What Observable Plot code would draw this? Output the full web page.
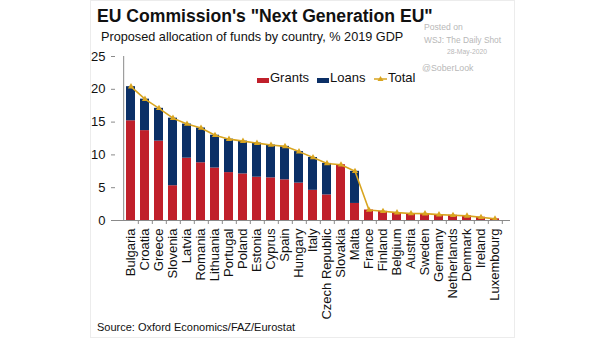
<!DOCTYPE html>
<html>
<head>
<meta charset="utf-8">
<script src="https://cdn.jsdelivr.net/npm/d3@7"></script>
<script src="https://cdn.jsdelivr.net/npm/@observablehq/plot@0.6"></script>
<style>
  html, body { margin: 0; padding: 0; background: #fff; }
  #wrap { position: relative; width: 605px; height: 341px; overflow: hidden; font-family: "Liberation Sans", Arial, sans-serif; }
  #frame { position: absolute; left: 90px; top: 0px; width: 425px; height: 338px; border: 1px solid #ececec; box-sizing: border-box; }
  .abs { position: absolute; white-space: nowrap; line-height: 1; }
  #title { left: 97px; top: 8px; font-size: 17.6px; font-weight: bold; color: #111; }
  #subtitle { left: 101px; top: 31px; font-size: 12.7px; color: #111; }
  #source { left: 97px; top: 322px; font-size: 11px; color: #111; }
  .wm { color: #b8b8b8; }
  #chart { position: absolute; left: 0; top: 0; }
  .leg { position: absolute; top: 71px; font-size: 13px; line-height: 1; color: #111; display: flex; align-items: flex-end; }
  .sw { display: inline-block; width: 12px; height: 5px; margin-right: 1px; margin-bottom: 1px; }
</style>
</head>
<body>
<div id="wrap">
  <div id="frame"></div>
  <div id="chart"></div>
  <div id="title" class="abs">EU Commission's "Next Generation EU"</div>
  <div id="subtitle" class="abs">Proposed allocation of funds by country, % 2019 GDP</div>
  <div class="abs wm" style="left:424px;top:23px;font-size:8.6px;">Posted on</div>
  <div class="abs wm" style="left:424px;top:36px;font-size:8.4px;">WSJ: The Daily Shot</div>
  <div class="abs wm" style="left:447px;top:49px;font-size:6.8px;">28-May-2020</div>
  <div class="abs wm" style="left:422px;top:64px;font-size:8.8px;">@SoberLook</div>
  <div class="leg" style="left:257px;"><span class="sw" style="background:#c0202b"></span>Grants</div>
  <div class="leg" style="left:317px;"><span class="sw" style="background:#0b2f66"></span>Loans</div>
  <div class="leg" style="left:374px;"><svg width="13" height="8" style="margin-right:1px;margin-bottom:1px"><line x1="0" y1="4" x2="13" y2="4" stroke="#d9a520" stroke-width="1.5"/><path d="M6.5,1 L9.5,6 L3.5,6 Z" fill="#d9a520"/></svg>Total</div>
  <div id="source" class="abs">Source: Oxford Economics/FAZ/Eurostat</div>
</div>
<script>
const countries = ["Bulgaria","Croatia","Greece","Slovenia","Latvia","Romania","Lithuania","Portugal","Poland","Estonia","Cyprus","Spain","Hungary","Italy","Czech Republic","Slovakia","Malta","France","Finland","Belgium","Austria","Sweden","Germany","Netherlands","Denmark","Ireland","Luxembourg"];
const grants = [15.2,13.7,12.1,5.3,9.5,8.8,8.0,7.3,7.1,6.6,6.5,6.2,5.7,4.6,3.9,8.5,2.6,1.6,1.4,1.2,1.07,1.05,0.9,0.8,0.7,0.5,0.25];
const loans  = [5.2,4.8,5.0,10.3,5.2,5.3,5.0,5.1,5.0,5.2,5.0,5.1,4.8,5.0,4.8,0,4.9,0,0,0,0,0,0,0,0,0,0];
const yTicks = [0,5,10,15,20,25];
const seriesNames = ["Grants","Loans"];

const long = [];
countries.forEach((c,i) => {
  long.push({country: c, type: "Grants", value: grants[i]});
  long.push({country: c, type: "Loans", value: loans[i]});
});
const totals = countries.map((c,i) => ({country: c, total: +(grants[i] + loans[i]).toFixed(2)}));

const W = 605, H = 341, ML = 115, MR = 95, MT = 56, MB = 121;
const step = (W - ML - MR) / countries.length;
const gold = "#d9a520";
const axisGray = "#8a8a8a";

const chart = Plot.plot({
  width: W, height: H,
  marginLeft: ML, marginRight: MR, marginTop: MT, marginBottom: MB,
  style: {background: "transparent", fontFamily: "Liberation Sans, Arial, sans-serif", overflow: "visible"},
  x: {domain: countries, paddingInner: 0.36, paddingOuter: 0.18, align: 0.5},
  y: {domain: [0, 25]},
  color: {domain: seriesNames, range: ["#c0202b", "#0b2f66"]},
  marks: [
    Plot.barY(long, {x: "country", y: "value", fill: "type", order: seriesNames}),
    Plot.line(totals, {x: "country", y: "total", stroke: gold, strokeWidth: 1.6}),
    Plot.dot(totals, {x: "country", y: "total", symbol: "triangle", r: 2.3, fill: gold, stroke: "none"}),
    Plot.ruleY([0], {stroke: axisGray}),
    Plot.ruleX([countries[0]], {dx: -step/2, stroke: axisGray}),
    Plot.axisY({ticks: yTicks, tickSize: 4, tickPadding: 6, fontSize: 13, stroke: axisGray, color: "#111", label: null}),
    Plot.axisX({tickSize: 4, dx: step/2, text: null, stroke: axisGray, label: null}),
    Plot.axisX({tickSize: 0, tickPadding: 8, tickRotate: -90, fontSize: 13, color: "#111", label: null})
  ]
});
document.getElementById("chart").appendChild(chart);
</script>
</body>
</html>
